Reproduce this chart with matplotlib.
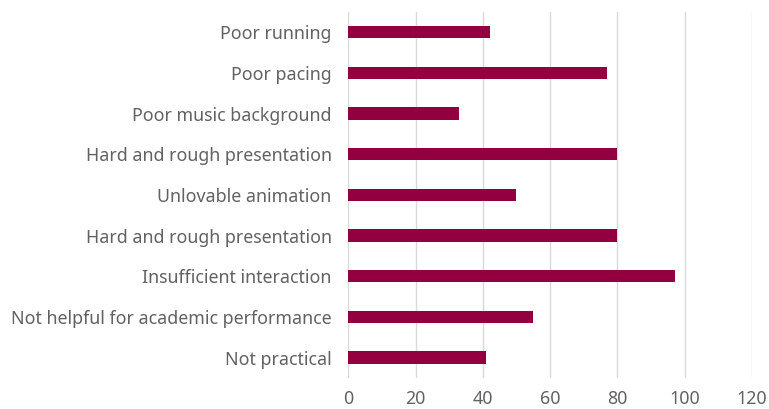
import matplotlib
matplotlib.use("Agg")
import matplotlib.pyplot as plt

# Reasons, listed top to bottom as in the chart
categories = [
    "Poor running",
    "Poor pacing",
    "Poor music background",
    "Hard and rough presentation",
    "Unlovable animation",
    "Hard and rough presentation",
    "Insufficient interaction",
    "Not helpful for academic performance",
    "Not practical",
]
values = [42, 77, 33, 80, 50, 80, 97, 55, 41]
x_ticks = [0, 20, 40, 60, 80, 100, 120]

plt.rcParams['font.family'] = ['Noto Sans', 'DejaVu Sans']

fig = plt.figure(figsize=(7.69, 4.09), dpi=100)
ax = fig.add_axes([0.4529, 0.076, 0.525, 0.895])

pos = list(range(len(categories)))[::-1]
ax.barh(pos, values, height=0.3, color='#930040', zorder=3)

ax.set_xlim(0, 120)
ax.set_ylim(-0.5, len(categories) - 0.5)
ax.set_xticks(x_ticks)
ax.set_yticks(pos)
ax.set_yticklabels(categories)
ax.tick_params(axis='both', length=0, labelsize=12.8, labelcolor='#626262')
ax.tick_params(axis='y', pad=12)
ax.tick_params(axis='x', pad=9)

ax.grid(axis='x', color='#d9d9d9', linewidth=1, zorder=0)
for s in ax.spines.values():
    s.set_visible(False)

fig.savefig('out.png', dpi=100)
